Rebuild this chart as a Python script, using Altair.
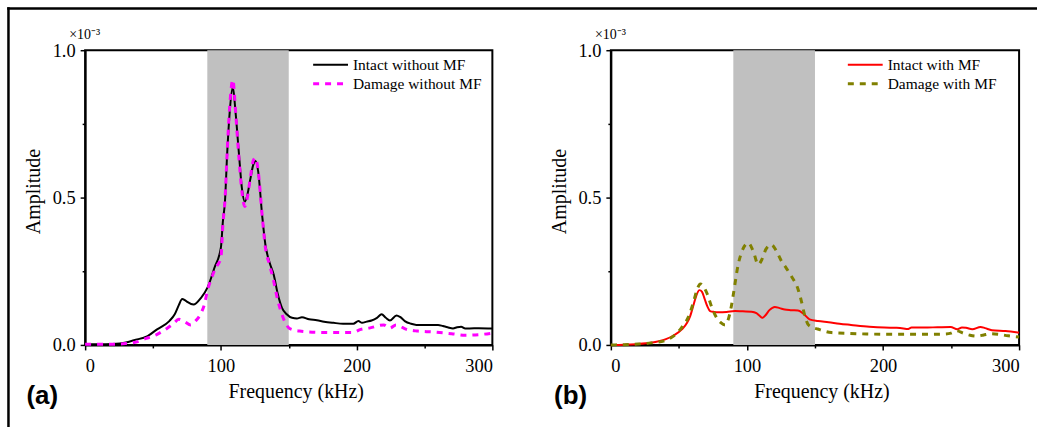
import altair as alt
import pandas as pd

# ---------------- data (amplitude in units of 1e-3) ----------------
freq_intact_a = [0, 10, 20, 30, 36, 46, 53, 62, 66, 69, 71.5, 73.5, 75.6, 79.8, 85.4, 90.3, 95.2, 100,
                 101.5, 103, 104.7, 106.5, 108.8, 110.8, 113.2, 115.5, 117.6, 119.5, 121.8, 123.8, 125.5,
                 127.5, 130.4, 132.8, 136, 138.9, 142, 145, 148.5, 152.4, 156, 159.7, 165, 170.7, 176,
                 182.9, 190, 197.6, 201.3, 204, 207.4, 211, 215, 218.4, 221.5, 224.5, 229.4, 232, 235.5,
                 240, 244, 250, 256.3, 260, 263.6, 267, 271, 274, 277, 280, 283.2, 290, 300]
amp_intact_a = [0.002, 0.002, 0.003, 0.008, 0.016, 0.03, 0.053, 0.081, 0.104, 0.135, 0.156, 0.152, 0.145,
                0.137, 0.16, 0.196, 0.261, 0.33,
                0.42, 0.486, 0.655, 0.79, 0.875, 0.79, 0.655, 0.531, 0.486, 0.509, 0.565, 0.61, 0.624,
                0.588, 0.44, 0.34, 0.278, 0.239, 0.171, 0.126, 0.104, 0.092, 0.09, 0.094, 0.087, 0.084, 0.079,
                0.075, 0.072, 0.072, 0.081, 0.075, 0.079, 0.083, 0.092, 0.104, 0.092, 0.083, 0.1, 0.095, 0.081,
                0.072, 0.068, 0.068, 0.068, 0.068, 0.064, 0.06, 0.056, 0.06, 0.062, 0.056, 0.056, 0.057, 0.056]

freq_damage_a = [0, 10, 20, 25, 30, 36, 45, 53, 60, 65, 69, 73, 77.8, 81, 85, 88, 90, 93, 96, 100,
                 101.5, 103, 104.7, 106.5, 108.8, 111, 113.2, 115.5, 117.6, 119.5, 121.8, 123.8, 125.5,
                 127.5, 130.4, 132.8, 136, 138.9, 142, 145, 147.5, 150, 154, 158, 170, 185, 197, 203, 210,
                 220, 224.5, 229, 236.7, 245, 256, 270, 280, 290, 300]
amp_damage_a = [0.002, 0.002, 0.002, 0.003, 0.005, 0.008, 0.022, 0.036, 0.055, 0.072, 0.087, 0.08, 0.068,
                0.08, 0.104, 0.14, 0.182, 0.225, 0.26, 0.295,
                0.41, 0.49, 0.66, 0.81, 0.9, 0.78, 0.64, 0.52, 0.47, 0.5, 0.57, 0.625, 0.635,
                0.59, 0.44, 0.33, 0.27, 0.216, 0.15, 0.104, 0.075, 0.058, 0.05, 0.047, 0.043, 0.042, 0.042,
                0.053, 0.058, 0.068, 0.057, 0.068, 0.053, 0.047, 0.044, 0.038, 0.033, 0.035, 0.04]

freq_intact_b = [0, 10, 20, 30, 40, 46, 52.2, 56, 58.3, 61, 63, 65.1, 67, 69, 71, 72.9, 76, 79, 85, 91.2,
                 97, 103.4, 107, 109.5, 111.4, 113.5, 116.5, 120.5, 124, 127.8, 132, 137.5, 141, 146,
                 152.2, 160, 168, 176.5, 190, 201, 210, 215, 218, 221, 230, 240, 249.7, 254.6, 258, 261,
                 265.6, 271.7, 275, 280, 290, 300]
amp_intact_b = [0.0, 0.001, 0.003, 0.008, 0.019, 0.032, 0.053, 0.075, 0.098, 0.14, 0.17, 0.186, 0.18, 0.155,
                0.13, 0.115, 0.112, 0.111, 0.112, 0.115,
                0.114, 0.113, 0.108, 0.098, 0.092, 0.1, 0.118, 0.129, 0.125, 0.12, 0.118, 0.117, 0.108, 0.087,
                0.081, 0.077, 0.072, 0.068, 0.062, 0.059, 0.058, 0.056, 0.054, 0.059, 0.059, 0.06, 0.061,
                0.053, 0.059, 0.058, 0.053, 0.061, 0.057, 0.05, 0.047, 0.042]

freq_damage_b = [0, 10, 20, 30, 40, 46, 52, 57, 61, 63.5, 65.8, 68.5, 71, 74, 77.8, 81, 84, 86.5, 88.5, 90,
                 93.6, 97, 101, 104.5, 108.3, 111, 114, 118, 121.5, 125.4, 129, 132.7, 137.5, 140, 142.5,
                 144.9, 148, 152, 162, 175, 190, 210, 230, 245, 250, 254, 259, 264, 269.5, 274, 279, 285,
                 292, 300]
amp_damage_b = [0.0, 0.001, 0.003, 0.007, 0.015, 0.03, 0.059, 0.095, 0.15, 0.19, 0.207, 0.195, 0.171, 0.13,
                0.092, 0.075, 0.068, 0.09, 0.13, 0.171,
                0.273, 0.325, 0.346, 0.32, 0.273, 0.29, 0.325, 0.34, 0.32, 0.284, 0.26, 0.233, 0.19, 0.149,
                0.1, 0.07, 0.06, 0.054, 0.042, 0.039, 0.037, 0.036, 0.036, 0.037, 0.04, 0.048, 0.04, 0.033,
                0.03, 0.034, 0.038, 0.036, 0.031, 0.027]

series_a = ["Intact without MF", "Damage without MF"]
series_b = ["Intact with MF", "Damage with MF"]
colors_a = ["#000000", "#ff00ff"]
colors_b = ["#ff0000", "#808000"]
band_range = [90, 150]
x_ticks = [0, 50, 100, 150, 200, 250, 300]
y_ticks = [0, 0.25, 0.5, 0.75, 1.0]
panel_labels = ["(a)", "(b)"]
exponent_label = "×10⁻³"

# ---------------- styling ----------------
H = 296
SERIF = "Liberation Serif"


def panel(series, freqs, amps, colors, dashes, widths, letter, width, leg_x, frame):
    xs = alt.Scale(domain=[0, 300], nice=False, zero=False)
    ys = alt.Scale(domain=[0, 1], nice=False)
    common = dict(labelFont=SERIF, labelFontSize=18.5, labelColor="black", titleFont=SERIF,
                  titleFontSize=20, titleFontWeight="normal", titleColor="black", domainColor="black",
                  domainWidth=2, tickColor="black", tickWidth=1.5, grid=False)
    xaxis = alt.Axis(values=x_ticks, labelExpr="datum.value % 100 == 0 ? datum.label : ''",
                     tickSize={"condition": {"test": "datum.value % 100 == 0", "value": 5}, "value": 3},
                     labelPadding=7, titleX=211.5, titleY=47, titleBaseline="middle",
                     titleAlign="center", **common)
    yaxis = alt.Axis(values=y_ticks, labelExpr="datum.value % 0.5 == 0 ? format(datum.value, '.1f') : ''",
                     tickSize={"condition": {"test": "datum.value % 0.5 == 0", "value": 5}, "value": 3},
                     labelPadding=5, titleX=-52, titleY=141.5, titleBaseline="middle",
                     titleAlign="center", titleAngle=270, **common)

    def X(field):
        return alt.X(field, scale=xs, axis=xaxis, title="Frequency (kHz)")

    def Y(field):
        return alt.Y(field, scale=ys, axis=yaxis, title="Amplitude")

    band_df = pd.DataFrame({"x0": [band_range[0]], "x1": [band_range[1]], "y0": [0.0], "y1": [1.0]})
    layers = [alt.Chart(band_df).mark_rect(color="#c0c0c0", opacity=1).encode(
        x=X("x0:Q"), x2="x1:Q", y=Y("y0:Q"), y2="y1:Q")]

    for s, f, a, c, d, w in zip(series, freqs, amps, colors, dashes, widths):
        df = pd.DataFrame({"f": f, "a": a})
        mk = dict(interpolate="monotone", color=c, strokeWidth=w)
        if d:
            mk["strokeDash"] = d
        layers.append(alt.Chart(df).mark_line(**mk).encode(x=X("f:Q"), y=Y("a:Q")))

    # legend (manual)
    row_y = [14.7, 33.7]
    for i, (s, c, d, w) in enumerate(zip(series, colors, dashes, widths)):
        ldf = pd.DataFrame({"name": [s]})
        rk = dict(color=c, strokeWidth=w)
        if d:
            rk["strokeDash"] = d
        layers.append(alt.Chart(ldf).mark_rule(**rk).encode(
            x=alt.value(leg_x), x2=alt.value(leg_x + 35), y=alt.value(row_y[i])))
        layers.append(alt.Chart(ldf).mark_text(font=SERIF, fontSize=15.5, align="left",
                                               baseline="middle", color="black").encode(
            x=alt.value(leg_x + 40), y=alt.value(row_y[i] + 0.5), text="name:N"))

    # exponent and panel letter
    edf = pd.DataFrame({"t": [exponent_label]})
    layers.append(alt.Chart(edf).mark_text(font=SERIF, fontSize=14, align="left",
                                           baseline="alphabetic", color="black").encode(
        x=alt.value(-16), y=alt.value(-11), text="t:N"))
    pdf = pd.DataFrame({"t": [letter]})
    layers.append(alt.Chart(pdf).mark_text(font="Liberation Sans", fontSize=26, fontWeight="bold",
                                           align="left", baseline="alphabetic", color="black").encode(
        x=alt.value(-59 if frame else -57), y=alt.value(355.5), text="t:N"))

    if frame:
        fdf = pd.DataFrame({"k": [0]})
        layers.append(alt.Chart(fdf).mark_rule(color="black", strokeWidth=2.5, strokeCap="butt").encode(
            x=alt.value(-77), y=alt.value(-43.25), y2=alt.value(379)))
        layers.append(alt.Chart(fdf).mark_rule(color="black", strokeWidth=2.5, strokeCap="butt").encode(
            x=alt.value(-78.25), x2=alt.value(956), y=alt.value(-42)))

    return alt.layer(*layers).properties(width=width, height=H)


left = panel(series_a, [freq_intact_a, freq_damage_a], [amp_intact_a, amp_damage_a], colors_a,
             [None, [6, 6]], [2, 3], panel_labels[0], 409, 229, True)
right = panel(series_b, [freq_intact_b, freq_damage_b], [amp_intact_b, amp_damage_b], colors_b,
              [None, [6, 6]], [2, 3], panel_labels[1], 410, 238, False)

chart = alt.hconcat(left, right, spacing=119, bounds="flush").properties(
    padding={"left": 4.5, "top": 3.5, "right": 0, "bottom": 0},
    background="white"
).configure_view(stroke="black", strokeWidth=2)

chart.save("out.html", embed_options={"renderer": "svg", "actions": False})
